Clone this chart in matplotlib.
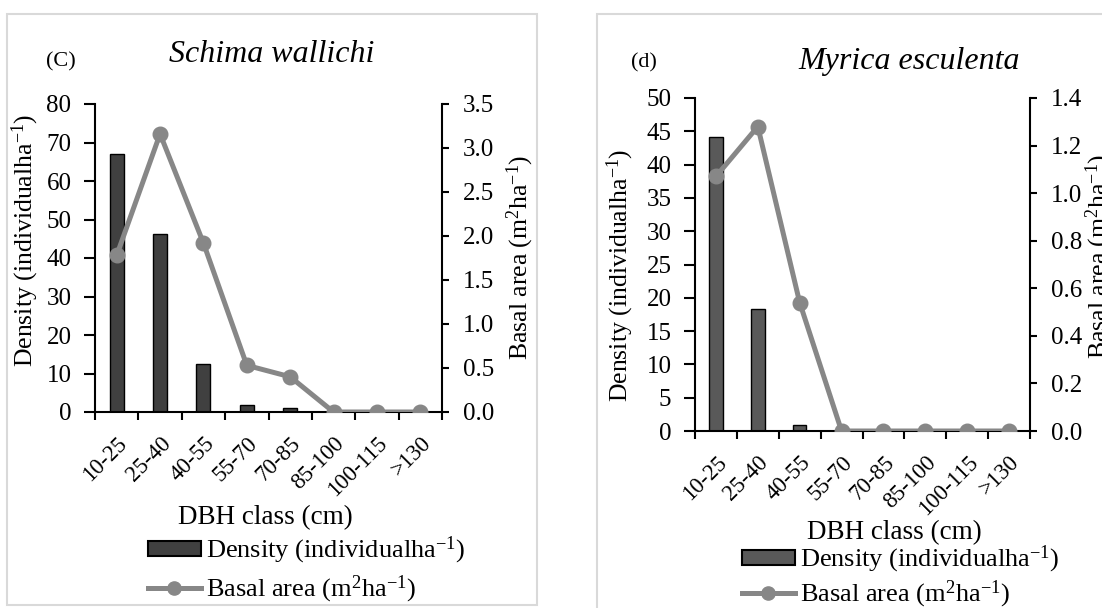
import numpy as np
import matplotlib
matplotlib.use("Agg")
import matplotlib.pyplot as plt
from matplotlib.patches import Rectangle
from matplotlib.lines import Line2D
from matplotlib.transforms import ScaledTranslation

plt.rcParams['font.family'] = ['Liberation Serif', 'DejaVu Serif']
plt.rcParams['mathtext.fontset'] = 'custom'
plt.rcParams['mathtext.rm'] = 'Liberation Serif'
plt.rcParams['mathtext.it'] = 'Liberation Serif:italic'

classes = ['10-25', '25-40', '40-55', '55-70', '70-85', '85-100', '100-115', '>130']

# (C) Schima wallichi
density_c = [67, 46.2, 12.4, 1.8, 1.0, 0, 0, 0]
basal_c = [1.78, 3.16, 1.92, 0.53, 0.40, 0, 0, 0]

# (d) Myrica esculenta
density_d = [44.1, 18.3, 0.9, 0, 0, 0, 0, 0]
basal_d = [1.07, 1.28, 0.54, 0, 0, 0, 0, 0]

W, H = 1102, 608
fig = plt.figure(figsize=(W / 100, H / 100), dpi=100)

def px(x, y):
    return x / W, 1 - y / H

line_col = '#878787'
dens_lab = r'Density (individualha$^{-1}$)'
basal_lab = r'Basal area (m$^{2}$ha$^{-1}$)'
leg_dens = 'Density (individualha$^{-1}$)'
leg_basal = 'Basal area (m$^{2}$ha$^{-1}$)'


def panel(box, axpos, dens, basal, ymax, ystep, y2max, y2step, barcol,
          title, title_xy, tag, tag_xy, ylab_xy, y2lab_xy, xlab_xy, leg_xy, legsp):
    # light grey frame around each panel
    fig.patches.append(Rectangle(px(box[0], box[3]), (box[2] - box[0]) / W,
                                 (box[3] - box[1]) / H, transform=fig.transFigure,
                                 fill=False, edgecolor='#d9d9d9', lw=1.5))
    x0, y0 = px(axpos[0], axpos[3])
    ax = fig.add_axes([x0, y0, (axpos[2] - axpos[0]) / W, (axpos[3] - axpos[1]) / H])
    ax.patch.set_alpha(0)
    x = np.arange(len(classes))
    ax.bar(x, dens, width=0.32, color=barcol, edgecolor='black', linewidth=1.0, zorder=2)
    ax.set_ylim(0, ymax)
    ax.set_yticks(np.arange(0, ymax + 0.01, ystep))
    ax.set_xlim(-0.5, len(classes) - 0.5)
    ax.set_xticks(np.arange(-0.5, len(classes), 1.0))
    ax.set_xticklabels([])
    ax.set_xticks(x, minor=True)
    ax.set_xticklabels(classes, minor=True, rotation=45, ha='right',
                       rotation_mode='anchor', fontsize=16.5)
    shift = ScaledTranslation(-0.03, 0, fig.dpi_scale_trans)
    for lab in ax.get_xticklabels(minor=True):
        lab.set_transform(lab.get_transform() + shift)
    ax.tick_params(axis='x', which='minor', length=0, pad=15)
    ax.tick_params(axis='x', which='major', direction='out', length=6, width=1.5)
    ax.tick_params(axis='y', direction='out', length=8, width=1.5, labelsize=18, pad=9)
    for s in ['top', 'right']:
        ax.spines[s].set_visible(False)
    for s in ['left', 'bottom']:
        ax.spines[s].set_linewidth(1.5)
    ax.set_ylabel(dens_lab, fontsize=18.5)
    ax.yaxis.set_label_coords(*ylab_xy)

    ax2 = ax.twinx()
    ax2.plot(x, basal, color=line_col, lw=3.6, marker='o', ms=10.5, zorder=3)
    ax2.set_ylim(0, y2max)
    ax2.set_yticks(np.arange(0, y2max + 0.001, y2step))
    ax2.yaxis.set_major_formatter(matplotlib.ticker.FormatStrFormatter('%.1f'))
    ax2.tick_params(axis='y', direction='out', length=5, width=1.5, labelsize=18, pad=10)
    for s in ['top', 'left', 'bottom']:
        ax2.spines[s].set_visible(False)
    ax2.spines['right'].set_linewidth(1.5)
    ax2.set_ylabel(basal_lab, fontsize=18.5)
    ax2.yaxis.set_label_coords(*y2lab_xy)

    fig.text(*px(*title_xy), title, fontsize=23, style='italic', ha='center', va='center')
    fig.text(*px(*tag_xy), tag, fontsize=16, ha='center', va='center')
    fig.text(*px(*xlab_xy), 'DBH class (cm)', fontsize=19.5, ha='center', va='center')

    handles = [Rectangle((0, 0), 1, 1, facecolor=barcol, edgecolor='black', lw=1.5),
               Line2D([], [], color=line_col, lw=3.6, marker='o', ms=9.5)]
    fig.legend(handles, [leg_dens, leg_basal], loc='center left',
               bbox_to_anchor=px(*leg_xy), frameon=False, fontsize=19,
               borderpad=0, borderaxespad=0, handlelength=2.0, handleheight=0.5,
               handletextpad=0.2, labelspacing=legsp)


panel((7, 14, 537, 605), (95, 104, 442, 412), density_c, basal_c, 80, 10, 3.5, 0.5,
      '#404040', 'Schima wallichi', (272, 55), '(C)', (61, 62),
      (-0.155, 0.558), (1.182, 0.503), (265, 518), (148, 570), 0.3)
panel((597, 14, 1110, 620), (695, 98, 1030, 431), density_d, basal_d, 50, 5, 1.4, 0.2,
      '#595959', 'Myrica esculenta', (909, 62), '(d)', (644, 63),
      (-0.176, 0.468), (1.16, 0.523), (894, 533), (742, 577), 0.15)

fig.savefig('out.png', dpi=100)
